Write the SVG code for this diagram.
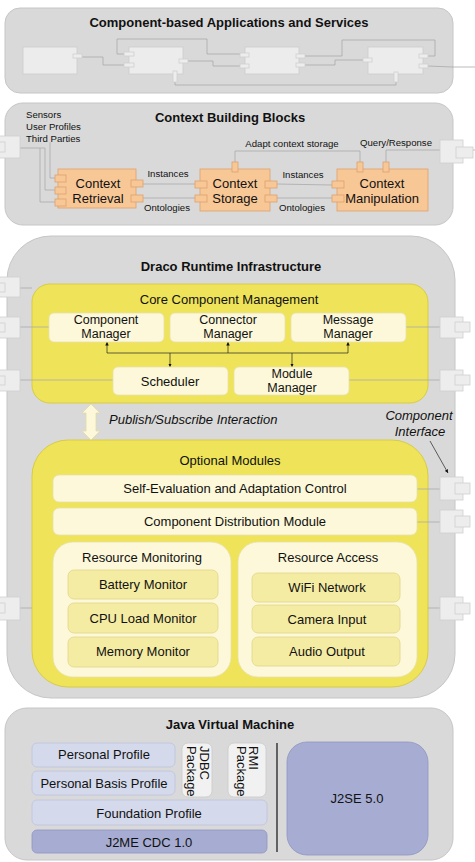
<svg xmlns="http://www.w3.org/2000/svg" width="475" height="862" viewBox="0 0 475 862">
<defs>
<style>
text{font-family:"Liberation Sans",Arial,sans-serif;fill:#111;}
.t{font-size:13px;font-weight:bold;text-anchor:middle;}
.n{font-size:13px;text-anchor:middle;}
.n2{font-size:12.5px;text-anchor:middle;}
.s{font-size:9.6px;}
.sc{font-size:9.6px;text-anchor:middle;}
.it{font-size:13px;font-style:italic;}
.panel{fill:#d9d9d9;stroke:#c6c6c6;stroke-width:1;}
.comp{fill:#ececec;stroke:#cdcdcd;stroke-width:0.8;}
.sport{fill:#ededed;stroke:#cfcfcf;stroke-width:0.8;}
.or{fill:#f8c796;stroke:#dca06e;stroke-width:0.8;}
.yel{fill:#eee359;stroke:#d8cb47;stroke-width:1;}
.cream{fill:#fcf8d9;stroke:#e9e1b3;stroke-width:0.8;}
.ly{fill:#f5eca3;stroke:#e1d589;stroke-width:0.8;}
.lav{fill:#d4d9eb;stroke:#bcc3dc;stroke-width:0.8;}
.dlav{fill:#a6acd2;stroke:#9096c2;stroke-width:0.8;}
.pkg{fill:#f1f1f1;stroke:#cacaca;stroke-width:0.8;}
.ln{fill:none;stroke:#a9a9a9;stroke-width:0.8;}
.ar{fill:none;stroke:#222;stroke-width:0.7;}
</style>
<marker id="ah" viewBox="0 0 10 10" refX="10" refY="5" markerWidth="5" markerHeight="5" orient="auto">
<path d="M0,0 L10,5 L0,10 z" fill="#111"/>
</marker>
</defs>

<!-- Panels / containers -->
<g id="apps-panel">
<rect class="panel" x="5" y="8" width="448" height="85" rx="15"/>
<text class="t" x="229" y="27">Component-based Applications and Services</text>
</g>
<g id="cbb-panel">
<rect class="panel" x="5" y="103" width="448" height="122" rx="18"/>
<text class="t" x="230" y="122">Context Building Blocks</text>
<text class="s" x="26" y="118">Sensors</text>
<text class="s" x="26" y="130">User Profiles</text>
<text class="s" x="26" y="142">Third Parties</text>
</g>
<g id="draco-panel">
<rect class="panel" x="7" y="236" width="448" height="462" rx="44"/>
<text class="t" x="231" y="271">Draco Runtime Infrastructure</text>
</g>
<g id="core">
<rect class="yel" x="32" y="284" width="396" height="119" rx="18"/>
<text class="n" x="229" y="304">Core Component Management</text>
</g>
<g id="optional">
<rect class="yel" x="32" y="440" width="396" height="247" rx="36"/>
<text class="n" x="230" y="465">Optional Modules</text>
</g>
<g id="res-monitoring">
<rect class="cream" x="53" y="542" width="178" height="135" rx="20"/>
<text class="n" x="142" y="562">Resource Monitoring</text>
</g>
<g id="res-access">
<rect class="cream" x="238" y="542" width="179" height="135" rx="20"/>
<text class="n" x="328" y="562">Resource Access</text>
</g>
<g id="jvm-panel">
<rect class="panel" x="5" y="708" width="448" height="152" rx="22"/>
<text class="t" x="230" y="729">Java Virtual Machine</text>
</g>

<!-- Connectors -->
<g id="connectors">
<polyline class="ln" points="82,57 103,57 103,65 124,65"/>
<polyline class="ln" points="124,54 117,54 117,39 207,39 207,54 240,54"/>
<polyline class="ln" points="188,61 213,61 213,66 240,66"/>
<polyline class="ln" points="175,82 175,85 396,85 396,82"/>
<polyline class="ln" points="305,56 342,56 342,40 435,40 435,56 428,56"/>
<polyline class="ln" points="305,65 335,65 335,60 363,60"/>
<polyline class="ln" points="428,66 452,67 475,67"/>

<polyline class="ln" points="20,148 45,148"/>
<polyline class="ln" points="40,148 40,202 56,202"/>
<polyline class="ln" points="45,148 45,190 56,190"/>
<polyline class="ln" points="50,142 50,178 56,178"/>
<line class="ln" x1="143" y1="184" x2="195" y2="184"/>
<line class="ln" x1="143" y1="198" x2="195" y2="198"/>
<line class="ln" x1="277" y1="184" x2="332" y2="185"/>
<line class="ln" x1="277" y1="198" x2="332" y2="198"/>
<polyline class="ln" points="235,162 235,151 360,151 360,162"/>
<polyline class="ln" points="386,162 386,150 440,150"/>
<line class="ln" x1="463" y1="150" x2="475" y2="150"/>

<line class="ln" x1="20" y1="288" x2="32" y2="288"/>
<line class="ln" x1="20" y1="327" x2="49" y2="327"/>
<line class="ln" x1="20" y1="380" x2="113" y2="380"/>
<line class="ln" x1="406" y1="327" x2="440" y2="327"/>
<line class="ln" x1="349" y1="380" x2="440" y2="380"/>
<line class="ln" x1="417" y1="489" x2="440" y2="489"/>
<line class="ln" x1="417" y1="522" x2="440" y2="522"/>
<line class="ln" x1="20" y1="608" x2="32" y2="608"/>
<line class="ln" x1="428" y1="608" x2="440" y2="608"/>

<polyline class="ar" points="107,353 348,353"/>
<line class="ar" x1="107" y1="353" x2="107" y2="342" marker-end="url(#ah)"/>
<line class="ar" x1="228" y1="353" x2="228" y2="342" marker-end="url(#ah)"/>
<line class="ar" x1="348" y1="353" x2="348" y2="342" marker-end="url(#ah)"/>
<line class="ar" x1="170" y1="353" x2="170" y2="367" marker-end="url(#ah)"/>
<line class="ar" x1="292" y1="353" x2="292" y2="367" marker-end="url(#ah)"/>

<polygon points="91,404 100,413 96,413 96,431 100,431 91,440 82,431 86,431 86,413 82,413" fill="#fcf8d9" stroke="#e2daa8" stroke-width="0.8"/>
<text class="it" x="109" y="424">Publish/Subscribe Interaction</text>
<text class="it" x="419" y="420" text-anchor="middle">Component</text>
<text class="it" x="420" y="436" text-anchor="middle">Interface</text>
<line class="ar" x1="430" y1="441" x2="448" y2="473" marker-end="url(#ah)"/>

<text class="sc" x="168" y="177">Instances</text>
<text class="sc" x="167" y="211">Ontologies</text>
<text class="sc" x="303" y="178">Instances</text>
<text class="sc" x="302" y="211">Ontologies</text>
<text class="sc" x="292" y="147">Adapt context storage</text>
<text class="sc" x="396" y="146">Query/Response</text>

<line x1="277" y1="743" x2="277" y2="852" stroke="#111" stroke-width="1.2"/>
</g>

<!-- Application components -->
<g id="app1">
<rect class="comp" x="23" y="47" width="54" height="27"/>
<rect class="sport" x="73" y="54" width="9" height="4"/>
</g>
<g id="app2">
<rect class="comp" x="129" y="47" width="54" height="27"/>
<rect class="sport" x="124" y="52" width="10" height="4"/>
<rect class="sport" x="124" y="63" width="10" height="4"/>
<rect class="sport" x="179" y="59" width="9" height="4"/>
<rect class="sport" x="173" y="71" width="4" height="11"/>
</g>
<g id="app3">
<rect class="comp" x="245" y="47" width="54" height="27"/>
<rect class="sport" x="240" y="53" width="9" height="4"/>
<rect class="sport" x="240" y="64" width="9" height="4"/>
<rect class="sport" x="296" y="54" width="9" height="4"/>
<rect class="sport" x="296" y="63" width="9" height="4"/>
</g>
<g id="app4">
<rect class="comp" x="368" y="47" width="55" height="27"/>
<rect class="sport" x="363" y="58" width="9" height="4"/>
<rect class="sport" x="419" y="54" width="9" height="4"/>
<rect class="sport" x="419" y="64" width="9" height="4"/>
<rect class="sport" x="394" y="72" width="4" height="10"/>
</g>

<!-- Side ports -->
<g id="ports">
<rect class="sport" x="-4" y="136" width="24" height="22"/>
<rect class="sport" x="-8" y="142" width="13" height="10"/>
<rect class="sport" x="440" y="140" width="23" height="23"/>
<rect class="sport" x="456" y="147" width="17" height="11"/>

<rect class="sport" x="-4" y="277" width="24" height="20"/>
<rect class="sport" x="-8" y="283" width="13" height="9"/>
<rect class="sport" x="-4" y="317" width="24" height="21"/>
<rect class="sport" x="-8" y="323" width="13" height="9"/>
<rect class="sport" x="-4" y="370" width="24" height="21"/>
<rect class="sport" x="-8" y="376" width="13" height="9"/>
<rect class="sport" x="440" y="317" width="23" height="21"/>
<rect class="sport" x="455" y="322" width="15" height="10"/>
<rect class="sport" x="440" y="370" width="23" height="21"/>
<rect class="sport" x="455" y="375" width="15" height="10"/>
<rect class="sport" x="440" y="477" width="23" height="23"/>
<rect class="sport" x="455" y="483" width="15" height="11"/>
<rect class="sport" x="440" y="510" width="23" height="23"/>
<rect class="sport" x="455" y="516" width="15" height="11"/>
<rect class="sport" x="-4" y="597" width="24" height="23"/>
<rect class="sport" x="-8" y="603" width="13" height="10"/>
<rect class="sport" x="440" y="597" width="23" height="23"/>
<rect class="sport" x="455" y="603" width="15" height="11"/>
</g>

<!-- Context building blocks -->
<g id="context-retrieval">
<rect class="or" x="58" y="169" width="78" height="39"/>
<rect class="or" x="55" y="175" width="11" height="7"/>
<rect class="or" x="55" y="187" width="11" height="7"/>
<rect class="or" x="55" y="199" width="11" height="7"/>
<rect class="or" x="131" y="180" width="12" height="7"/>
<rect class="or" x="131" y="195" width="12" height="7"/>
<text class="n" x="98" y="188">Context</text>
<text class="n" x="98" y="203">Retrieval</text>
</g>
<g id="context-storage">
<rect class="or" x="200" y="169" width="70" height="42"/>
<rect class="or" x="232" y="162" width="6" height="10"/>
<rect class="or" x="195" y="181" width="12" height="7"/>
<rect class="or" x="195" y="195" width="12" height="7"/>
<rect class="or" x="265" y="181" width="12" height="7"/>
<rect class="or" x="265" y="195" width="12" height="7"/>
<text class="n" x="235" y="188">Context</text>
<text class="n" x="235" y="203">Storage</text>
</g>
<g id="context-manipulation">
<rect class="or" x="337" y="169" width="91" height="42"/>
<rect class="or" x="357" y="162" width="6" height="10"/>
<rect class="or" x="383" y="162" width="6" height="10"/>
<rect class="or" x="332" y="181" width="12" height="7"/>
<rect class="or" x="332" y="195" width="12" height="7"/>
<text class="n" x="382" y="188">Context</text>
<text class="n" x="382" y="203">Manipulation</text>
</g>

<!-- Core component management -->
<g id="component-manager">
<rect class="cream" x="49" y="313" width="115" height="29" rx="5"/>
<text class="n2" x="106" y="324">Component</text>
<text class="n2" x="106" y="338">Manager</text>
</g>
<g id="connector-manager">
<rect class="cream" x="170" y="313" width="115" height="29" rx="5"/>
<text class="n2" x="228" y="324">Connector</text>
<text class="n2" x="228" y="338">Manager</text>
</g>
<g id="message-manager">
<rect class="cream" x="291" y="313" width="115" height="29" rx="5"/>
<text class="n2" x="348" y="324">Message</text>
<text class="n2" x="348" y="338">Manager</text>
</g>
<g id="scheduler">
<rect class="cream" x="113" y="367" width="115" height="28" rx="5"/>
<text class="n" x="170" y="386">Scheduler</text>
</g>
<g id="module-manager">
<rect class="cream" x="234" y="367" width="115" height="28" rx="5"/>
<text class="n2" x="292" y="378">Module</text>
<text class="n2" x="292" y="392">Manager</text>
</g>

<!-- Optional modules -->
<g id="self-eval">
<rect class="cream" x="53" y="475" width="364" height="27" rx="6"/>
<text class="n" x="235" y="493">Self-Evaluation and Adaptation Control</text>
</g>
<g id="distribution">
<rect class="cream" x="53" y="508" width="364" height="27" rx="6"/>
<text class="n" x="235" y="526">Component Distribution Module</text>
</g>
<g id="battery">
<rect class="ly" x="68" y="570" width="150" height="29" rx="6"/>
<text class="n" x="143" y="589">Battery Monitor</text>
</g>
<g id="cpu">
<rect class="ly" x="68" y="603" width="150" height="30" rx="6"/>
<text class="n" x="143" y="623">CPU Load Monitor</text>
</g>
<g id="memory">
<rect class="ly" x="68" y="637" width="150" height="30" rx="6"/>
<text class="n" x="143" y="656">Memory Monitor</text>
</g>
<g id="wifi">
<rect class="ly" x="252" y="573" width="148" height="29" rx="6"/>
<text class="n" x="327" y="592">WiFi Network</text>
</g>
<g id="camera">
<rect class="ly" x="252" y="605" width="148" height="28" rx="6"/>
<text class="n" x="327" y="624">Camera Input</text>
</g>
<g id="audio">
<rect class="ly" x="252" y="637" width="148" height="29" rx="6"/>
<text class="n" x="327" y="656">Audio Output</text>
</g>

<!-- JVM -->
<g id="personal-profile">
<rect class="lav" x="32" y="743" width="143" height="24" rx="5"/>
<text class="n" x="104" y="759">Personal Profile</text>
</g>
<g id="personal-basis">
<rect class="lav" x="32" y="771" width="143" height="24" rx="5"/>
<text class="n" x="104" y="788">Personal Basis Profile</text>
</g>
<g id="jdbc">
<rect class="pkg" x="182" y="743" width="30" height="54" rx="6"/>
<text class="n" style="text-anchor:start" transform="translate(199.5,746) rotate(90)">JDBC</text>
<text class="n" style="text-anchor:start" transform="translate(186.5,746) rotate(90)">Package</text>
</g>
<g id="rmi">
<rect class="pkg" x="228" y="743" width="38" height="54" rx="6"/>
<text class="n" style="text-anchor:start" transform="translate(248.5,746) rotate(90)">RMI</text>
<text class="n" style="text-anchor:start" transform="translate(236.5,746) rotate(90)">Package</text>
</g>
<g id="foundation">
<rect class="lav" x="32" y="800" width="235" height="25" rx="5"/>
<text class="n" x="149" y="818">Foundation Profile</text>
</g>
<g id="j2me">
<rect class="dlav" x="32" y="830" width="235" height="23" rx="5"/>
<text class="n" x="149" y="847">J2ME CDC 1.0</text>
</g>
<g id="j2se">
<rect class="dlav" x="287" y="742" width="141" height="113" rx="20"/>
<text class="n" x="357" y="803">J2SE 5.0</text>
</g>
</svg>
